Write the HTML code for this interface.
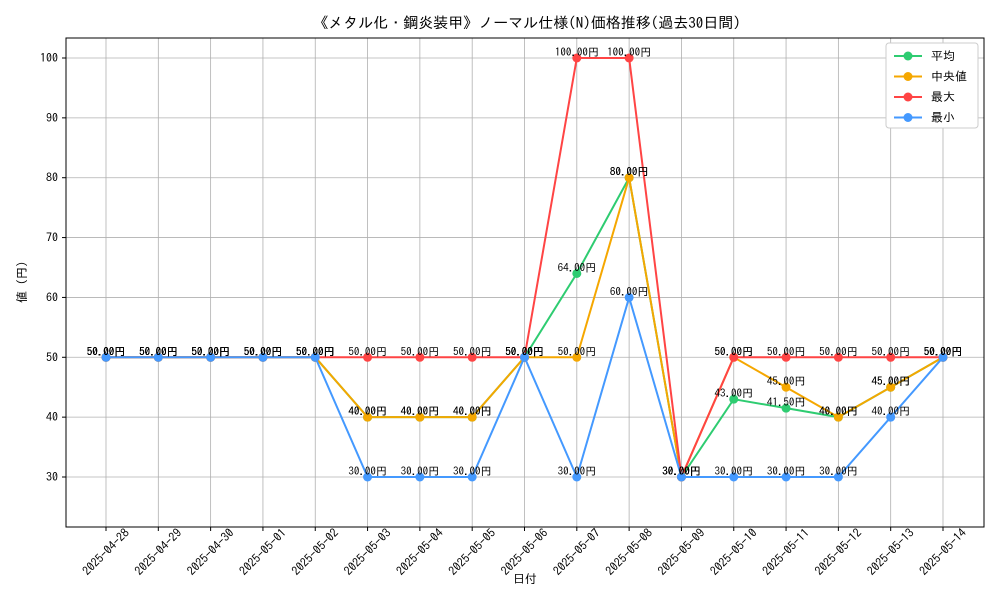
<!DOCTYPE html>
<html><head><meta charset="utf-8"><style>
body{margin:0;background:#fff;}
svg text{font-family:"IPAGothic","Noto Sans CJK JP","Liberation Sans",sans-serif;fill:#000;}
</style></head><body>
<svg id="chart" width="1000" height="600" xmlns="http://www.w3.org/2000/svg">
<rect width="1000" height="600" fill="#fff"/>
<text x="527" y="28" font-size="15" text-anchor="middle">《メタル化・鋼炎装甲》ノーマル仕様(N)価格推移(過去30日間)</text>
<g id="grid"></g>
<rect x="66" y="38" width="918" height="489" fill="none" stroke="#000" stroke-width="1"/>
<g id="axes"></g>
<g id="series"></g>
<text x="525" y="583" font-size="12" text-anchor="middle">日付</text>
<text x="26" y="282" font-size="12" text-anchor="middle" transform="rotate(-90 26 282)">値 (円)</text>
<g id="legend"></g>
</svg>
<script>
const dates=["2025-04-28","2025-04-29","2025-04-30","2025-05-01","2025-05-02","2025-05-03","2025-05-04","2025-05-05","2025-05-06","2025-05-07","2025-05-08","2025-05-09","2025-05-10","2025-05-11","2025-05-12","2025-05-13","2025-05-14"];
const avgVals=[50,50,50,50,50,40,40,40,50,64,80,30,43,41.5,40,45,50];
const medianVals=[50,50,50,50,50,40,40,40,50,50,80,30,50,45,40,45,50];
const maxVals=[50,50,50,50,50,50,50,50,50,100,100,30,50,50,50,50,50];
const minVals=[50,50,50,50,50,30,30,30,50,30,60,30,30,30,30,40,50];
const yTicks=[30,40,50,60,70,80,90,100];
const seriesNames=["平均","中央値","最大","最小"];
const NS="http://www.w3.org/2000/svg";
function xs(i){return 106+i*(943-106)/(dates.length-1);}
function ys(v){return 477-(v-30)*(477-58)/70;}
function mk(t,a,p){const e=document.createElementNS(NS,t);for(const k in a)e.setAttribute(k,a[k]);p.appendChild(e);return e;}
const grid=document.getElementById('grid'),axes=document.getElementById('axes');
yTicks.forEach(v=>{
  const l=mk('line',{x1:66,x2:984,y1:ys(v),y2:ys(v),stroke:'#b0b0b0','stroke-width':0.8},grid);
  
  
  mk('line',{x1:62,x2:66,y1:ys(v),y2:ys(v),stroke:'#000'},axes);
  const t=mk('text',{x:58,y:ys(v)+4,'font-size':12,'text-anchor':'end'},axes);
  
  
  t.textContent=v;
});
dates.forEach((d,i)=>{
  const x=xs(i);
  const l=mk('line',{x1:x,x2:x,y1:38,y2:527,stroke:'#b0b0b0','stroke-width':0.8},grid);
  
  
  mk('line',{x1:x,x2:x,y1:527,y2:531,stroke:'#000'},axes);
  const cy=552;
  const t=mk('text',{x:x,y:cy+4,'font-size':12,'text-anchor':'middle',transform:`rotate(-45 ${x} ${cy})`},axes);
  
  
  t.textContent=d;
});
const sg=document.getElementById('series');
const all=[[avgVals,'#2ecc71','avg'],[medianVals,'#f5a700','median'],[maxVals,'#ff4444','max'],[minVals,'#4499ff','min']];
all.forEach(([vals,c,n])=>{
  const g=mk('g',{},sg);
  
  
  const p=mk('polyline',{points:vals.map((v,i)=>xs(i)+','+ys(v)).join(' '),fill:'none',stroke:c,'stroke-width':2},g);
  
  
  vals.forEach((v,i)=>{
    const m=mk('circle',{cx:xs(i),cy:ys(v),r:4.5,fill:c},g);
    
    
  });
});
all.forEach(([vals,c,n])=>{
  vals.forEach((v,i)=>{
    const t=mk('text',{x:xs(i),y:ys(v)-2,'font-size':11,'text-anchor':'middle'},sg);
    
    
    t.textContent=v.toFixed(2)+'円';
  });
});
const lg=document.getElementById('legend');
mk('rect',{x:886,y:43,width:92,height:85,rx:3,fill:'#fff',stroke:'#ccc'},lg);
all.forEach(([v,c,n],k)=>{
  const y=56+k*20.5;
  const e=mk('g',{},lg);
  
  
  mk('line',{x1:894,x2:922,y1:y,y2:y,stroke:c,'stroke-width':2},e);
  mk('circle',{cx:908,cy:y,r:4.5,fill:c},e);
  const t=mk('text',{x:931,y:y+4,'font-size':12},e);
  t.textContent=(k==1?' ':'')+seriesNames[k];
});
</script>
</body></html>
